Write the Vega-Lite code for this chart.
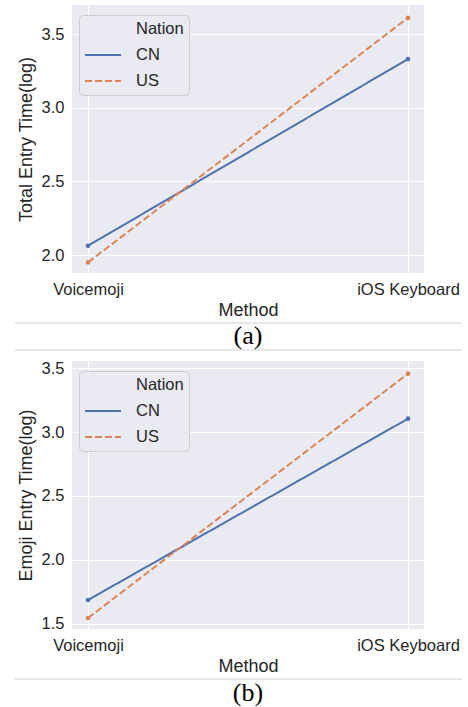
{
  "$schema": "https://vega.github.io/schema/vega-lite/v6.json",
  "background": "white",
  "padding": {"left": 14, "top": 5, "right": 5, "bottom": 0},
  "spacing": 2,
  "datasets": {
    "a": [
      {"Method": "Voicemoji", "Nation": "CN", "value": 2.063},
      {"Method": "iOS Keyboard", "Nation": "CN", "value": 3.33},
      {"Method": "Voicemoji", "Nation": "US", "value": 1.95},
      {"Method": "iOS Keyboard", "Nation": "US", "value": 3.61}
    ],
    "b": [
      {"Method": "Voicemoji", "Nation": "CN", "value": 1.685},
      {"Method": "iOS Keyboard", "Nation": "CN", "value": 3.105},
      {"Method": "Voicemoji", "Nation": "US", "value": 1.544},
      {"Method": "iOS Keyboard", "Nation": "US", "value": 3.458}
    ],
    "capA": [{"caption": "(a)"}],
    "capB": [{"caption": "(b)"}]
  },
  "vconcat": [
    {
      "data": {"name": "a"},
      "width": 352,
      "height": 268,
      "view": {"fill": "#eaeaf2", "stroke": null},
      "layer": [
        {
          "mark": {"type": "line", "strokeWidth": 2},
          "encoding": {
            "x": {"field": "Method", "type": "nominal", "sort": ["Voicemoji", "iOS Keyboard"], "scale": {"type": "point", "padding": 0.05}, "axis": {"labelAngle": 0, "grid": true}},
            "y": {"field": "value", "type": "quantitative", "title": "Total Entry Time(log)", "scale": {"domain": [1.878, 3.697], "nice": false, "zero": false}, "axis": {"values": [2.0, 2.5, 3.0, 3.5], "format": ".1f", "titlePadding": 6}},
            "color": {"field": "Nation", "type": "nominal", "scale": {"domain": ["Nation", "CN", "US"], "range": ["rgba(0,0,0,0)", "#4c72b0", "#dd8452"]}, "legend": {"symbolType": "M-1,0H3.5"}},
            "strokeDash": {"field": "Nation", "type": "nominal", "scale": {"domain": ["Nation", "CN", "US"], "range": [[1, 0], [1, 0], [7, 3]]}, "legend": {"symbolType": "M-1,0H3.5"}}
          }
        },
        {
          "mark": {"type": "point", "filled": true, "size": 22, "opacity": 1},
          "encoding": {
            "x": {"field": "Method", "type": "nominal", "sort": ["Voicemoji", "iOS Keyboard"]},
            "y": {"field": "value", "type": "quantitative"},
            "color": {"field": "Nation", "type": "nominal"}
          }
        }
      ]
    },
    {
      "data": {"name": "capA"},
      "width": 352,
      "height": 35,
      "layer": [
        {
          "mark": {"type": "rule", "color": "#d0d0d0", "strokeWidth": 1},
          "encoding": {
            "x": {"datum": -0.163, "type": "quantitative", "scale": {"domain": [0, 1]}, "axis": null},
            "x2": {"datum": 1.108},
            "y": {"datum": 1, "type": "quantitative", "scale": {"domain": [-0.3, 1]}, "axis": null}
          }
        },
        {
          "mark": {"type": "rule", "color": "#d0d0d0", "strokeWidth": 1},
          "encoding": {
            "x": {"datum": -0.163, "type": "quantitative"},
            "x2": {"datum": 1.108},
            "y": {"datum": 0, "type": "quantitative"}
          }
        },
        {
          "mark": {"type": "text", "font": "Liberation Serif", "fontSize": 26, "color": "black", "baseline": "middle", "align": "center"},
          "encoding": {
            "text": {"field": "caption"},
            "x": {"datum": 0.5, "type": "quantitative"},
            "y": {"datum": 0.5, "type": "quantitative"}
          }
        }
      ]
    },
    {
      "data": {"name": "b"},
      "width": 352,
      "height": 268,
      "view": {"fill": "#eaeaf2", "stroke": null},
      "layer": [
        {
          "mark": {"type": "line", "strokeWidth": 2},
          "encoding": {
            "x": {"field": "Method", "type": "nominal", "sort": ["Voicemoji", "iOS Keyboard"], "scale": {"type": "point", "padding": 0.05}, "axis": {"labelAngle": 0, "grid": true}},
            "y": {"field": "value", "type": "quantitative", "title": "Emoji Entry Time(log)", "scale": {"domain": [1.458, 3.557], "nice": false, "zero": false}, "axis": {"values": [1.5, 2.0, 2.5, 3.0, 3.5], "format": ".1f", "titlePadding": 6}},
            "color": {"field": "Nation", "type": "nominal", "scale": {"domain": ["Nation", "CN", "US"], "range": ["rgba(0,0,0,0)", "#4c72b0", "#dd8452"]}, "legend": {"symbolType": "M-1,0H3.5"}},
            "strokeDash": {"field": "Nation", "type": "nominal", "scale": {"domain": ["Nation", "CN", "US"], "range": [[1, 0], [1, 0], [7, 3]]}, "legend": {"symbolType": "M-1,0H3.5"}}
          }
        },
        {
          "mark": {"type": "point", "filled": true, "size": 22, "opacity": 1},
          "encoding": {
            "x": {"field": "Method", "type": "nominal", "sort": ["Voicemoji", "iOS Keyboard"]},
            "y": {"field": "value", "type": "quantitative"},
            "color": {"field": "Nation", "type": "nominal"}
          }
        }
      ]
    },
    {
      "data": {"name": "capB"},
      "width": 352,
      "height": 27,
      "layer": [
        {
          "mark": {"type": "rule", "color": "#d0d0d0", "strokeWidth": 1},
          "encoding": {
            "x": {"datum": -0.163, "type": "quantitative", "scale": {"domain": [0, 1]}, "axis": null},
            "x2": {"datum": 1.108},
            "y": {"datum": 1, "type": "quantitative", "scale": {"domain": [0, 1]}, "axis": null}
          }
        },
        {
          "mark": {"type": "text", "font": "Liberation Serif", "fontSize": 26, "color": "black", "baseline": "middle", "align": "center"},
          "encoding": {
            "text": {"field": "caption"},
            "x": {"datum": 0.5, "type": "quantitative"},
            "y": {"datum": 0.5, "type": "quantitative"}
          }
        }
      ]
    }
  ],
  "resolve": {"scale": {"color": "independent", "strokeDash": "independent", "x": "independent", "y": "independent"}},
  "config": {
    "view": {"stroke": null},
    "axis": {
      "domain": false,
      "ticks": false,
      "gridColor": "white",
      "gridWidth": 1,
      "gridOpacity": 1,
      "labelFont": "Liberation Sans",
      "labelFontSize": 16.5,
      "labelColor": "#262626",
      "titleFont": "Liberation Sans",
      "titleFontSize": 18,
      "titleFontWeight": "normal",
      "titleColor": "#262626",
      "labelPadding": 8,
      "titlePadding": 4
    },
    "legend": {
      "title": null,
      "orient": "none",
      "legendX": 7,
      "legendY": 10,
      "fillColor": "#eaeaf2",
      "strokeColor": "#cccccc",
      "cornerRadius": 4,
      "padding": 5,
      "labelFont": "Liberation Sans",
      "labelFontSize": 16.5,
      "labelColor": "#262626",
      "labelOffset": 34,
      "symbolSize": 256,
      "symbolStrokeWidth": 2,
      "rowPadding": 8
    }
  }
}
